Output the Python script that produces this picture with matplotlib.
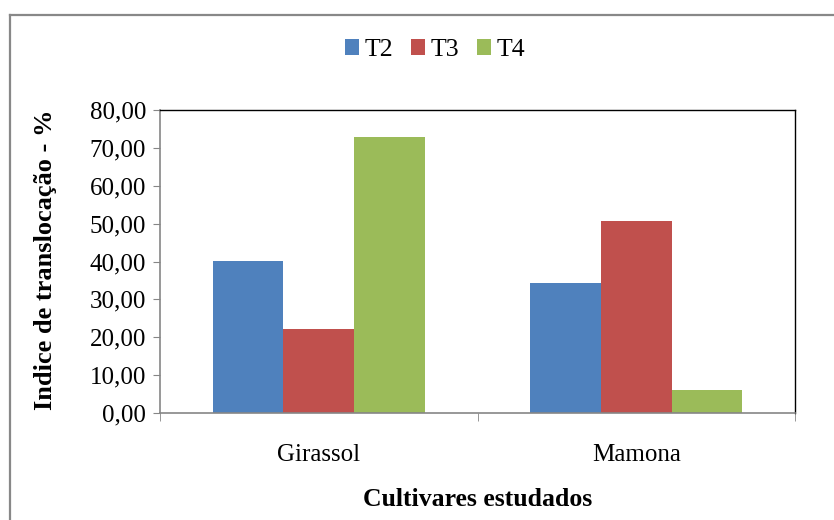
import matplotlib
matplotlib.use("Agg")
import matplotlib.pyplot as plt
import numpy as np
from matplotlib.lines import Line2D
from matplotlib.ticker import FixedLocator, FuncFormatter

categories = ["Girassol", "Mamona"]
series_names = ["T2", "T3", "T4"]
t2 = [40.1, 34.3]
t3 = [22.2, 50.7]
t4 = [72.8, 6.1]
colors = ["#4F81BD", "#C0504D", "#9BBB59"]
y_ticks = [0, 10, 20, 30, 40, 50, 60, 70, 80]

plt.rcParams["font.family"] = ["Liberation Serif", "DejaVu Serif"]

W, H = 834, 520
fig = plt.figure(figsize=(W / 100, H / 100), dpi=100)
fig.patch.set_facecolor("white")
ax = fig.add_axes([160 / W, 1 - 413 / H, (795 - 160) / W, (413 - 110) / H])

x = np.arange(len(categories))
w = 1 / 4.5
for i, (vals, name, c) in enumerate(zip([t2, t3, t4], series_names, colors)):
    ax.bar(x + (i - 1) * w, vals, width=w, color=c, label=name, linewidth=0)

ax.set_xlim(-0.5, 1.5)
ax.set_ylim(0, 80)
ax.set_yticks(y_ticks)
ax.yaxis.set_major_formatter(FuncFormatter(lambda v, p: f"{v:.2f}".replace(".", ",")))
ax.set_xticks(x)
ax.set_xticklabels(categories)
ax.xaxis.set_minor_locator(FixedLocator([-0.5, 0.5, 1.5]))

gray = "#868686"
ax.tick_params(axis="y", direction="out", length=5, color=gray, labelsize=18, pad=5)
ax.tick_params(axis="x", which="major", length=0, labelsize=18, pad=22)
ax.tick_params(axis="x", which="minor", direction="out", length=6, color=gray)
for s in ["left", "bottom"]:
    ax.spines[s].set_color(gray)
    ax.spines[s].set_linewidth(1.2)
for s in ["top", "right"]:
    ax.spines[s].set_color("black")
    ax.spines[s].set_linewidth(1.0)

fig.text(46 / W, 1 - 260 / H, "Indice de translocação - %", rotation=90, fontsize=19,
         fontweight="bold", ha="center", va="center")
fig.text(478 / W, 1 - 500 / H, "Cultivares estudados", fontsize=18.5,
         fontweight="bold", ha="center", va="center")

leg = fig.legend(loc="center", bbox_to_anchor=(435 / W, 1 - 50 / H), ncol=3,
                 frameon=False, fontsize=18.5, handlelength=0.55, handleheight=0.55,
                 handletextpad=0.2, columnspacing=0.7)

# Outer chart frame (left and top edges)
fig.add_artist(Line2D([10 / W, 10 / W], [0, 1 - 15 / H], transform=fig.transFigure,
                      color="#888888", linewidth=1.6))
fig.add_artist(Line2D([10 / W, 1], [1 - 15 / H, 1 - 15 / H], transform=fig.transFigure,
                      color="#888888", linewidth=1.6))

fig.savefig("out.png", dpi=100, facecolor="white")
